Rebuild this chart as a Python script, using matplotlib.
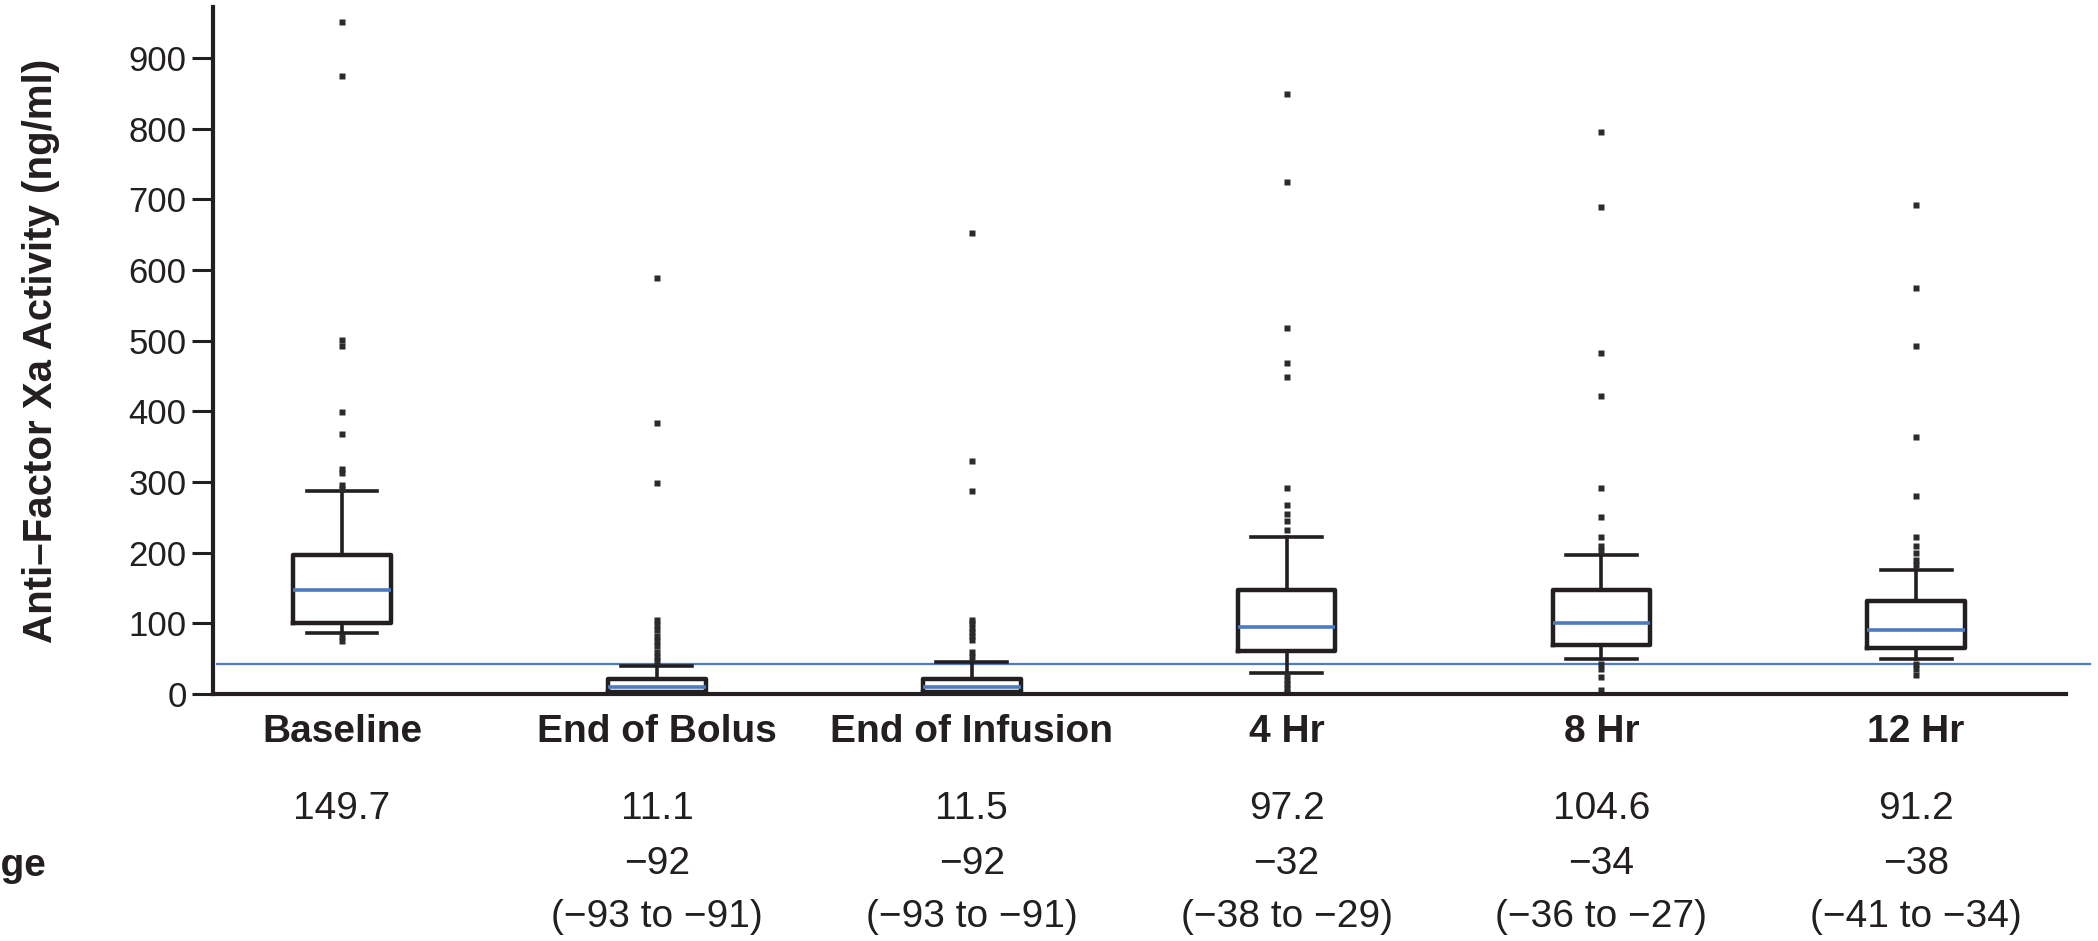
import matplotlib
matplotlib.use('Agg')
import matplotlib.pyplot as plt

# Values
categories = ['Baseline', 'End of Bolus', 'End of Infusion', '4 Hr', '8 Hr', '12 Hr']
q1 = [101, 3, 3, 61, 69, 65]
medians = [147, 10, 10, 95, 101, 91]
q3 = [196, 21, 21, 147, 147, 131]
whisker_low = [86, 0, 0, 30, 50, 50]
whisker_high = [287, 40, 45, 222, 197, 176]
fliers = [
    [951, 875, 501, 493, 399, 368, 319, 312, 296, 290, 82, 75],
    [589, 383, 298, 105, 98, 90, 82, 75, 68, 60, 52, 46],
    [652, 329, 287, 105, 100, 94, 88, 82, 76, 60, 52],
    [849, 724, 518, 469, 449, 291, 267, 255, 245, 232, 27, 20, 14, 8, 3],
    [795, 689, 483, 422, 291, 250, 222, 209, 203, 43, 35, 24, 5],
    [692, 574, 493, 363, 280, 222, 209, 200, 190, 183, 43, 35, 27],
]
mean_values = ['149.7', '11.1', '11.5', '97.2', '104.6', '91.2']
pct_change = ['', '\u221292', '\u221292', '\u221232', '\u221234', '\u221238']
pct_ci = ['', '(\u221293 to \u221291)', '(\u221293 to \u221291)', '(\u221238 to \u221229)',
          '(\u221236 to \u221227)', '(\u221241 to \u221234)']
threshold = 43

plt.rcParams['font.family'] = ['Liberation Sans', 'DejaVu Sans']

ink = '#231f20'
blue = '#4a7bc4'

fig = plt.figure(figsize=(20.98, 9.41), dpi=100)
ax = fig.add_axes([213 / 2098, 1 - 694 / 941, (2066 - 213) / 2098, (694 - 7) / 941])

positions = list(range(1, len(categories) + 1))
stats = []
for i, name in enumerate(categories):
    stats.append({'label': name, 'med': medians[i], 'q1': q1[i], 'q3': q3[i],
                  'whislo': whisker_low[i], 'whishi': whisker_high[i], 'fliers': fliers[i]})

ax.bxp(stats, positions=positions, widths=0.31, capwidths=0.225, showfliers=True,
       boxprops=dict(color=ink, linewidth=3.2),
       whiskerprops=dict(color=ink, linewidth=2.6),
       capprops=dict(color=ink, linewidth=2.6),
       medianprops=dict(color=blue, linewidth=2.6),
       flierprops=dict(marker='s', markersize=3.8, markerfacecolor='#2b2b2b',
                       markeredgecolor='none'))

# reference level line, runs a little past the end of the x axis
ax.axhline(threshold, xmin=0.002, xmax=1.013, color=blue, linewidth=1.6, clip_on=False, zorder=1)

ax.set_xlim(0.59, 6.476)
ax.set_ylim(0, 972)
ax.set_yticks(range(0, 1000, 100))
ax.tick_params(axis='y', length=15, width=2.2, color=ink, labelsize=25, labelcolor=ink, pad=4)
ax.set_xticks([])
for side in ['top', 'right']:
    ax.spines[side].set_visible(False)
for side in ['left', 'bottom']:
    ax.spines[side].set_linewidth(3.0)
    ax.spines[side].set_color(ink)

fig.text(41 / 2098, 1 - 351 / 941, 'Anti\u2013Factor Xa Activity (ng/ml)', rotation=90,
         ha='center', va='center', fontsize=29, fontweight='bold', color=ink)

trans = ax.get_xaxis_transform()
for i, p in enumerate(positions):
    ax.text(p, -0.056, categories[i], transform=trans, ha='center', va='center',
            fontsize=28, fontweight='bold', color=ink)
    ax.text(p, -0.1674, mean_values[i], transform=trans, ha='center', va='center',
            fontsize=28, color=ink)
    ax.text(p, -0.248, pct_change[i], transform=trans, ha='center', va='center',
            fontsize=28, color=ink)
    ax.text(p, -0.3246, pct_ci[i], transform=trans, ha='center', va='center',
            fontsize=28, color=ink)

# row label, cut off by the left edge as in the source
fig.text(46 / 2098, 1 - 866 / 941, 'Percent Change', ha='right', va='center',
         fontsize=28, fontweight='bold', color=ink)

fig.savefig('out.png', dpi=100)
